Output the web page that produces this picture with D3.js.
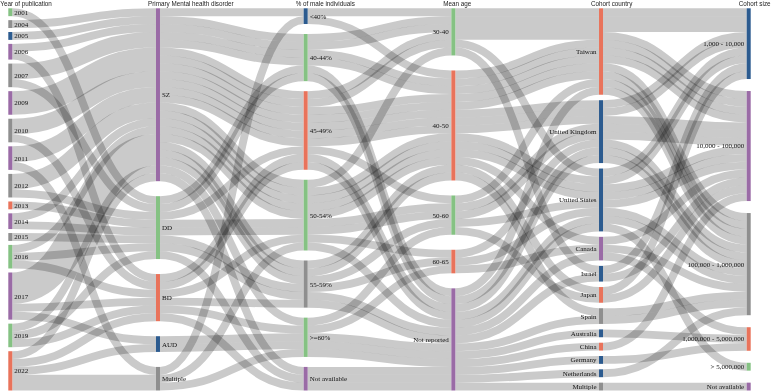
<!DOCTYPE html>
<html>
<head>
<meta charset="utf-8">
<script src="https://cdn.jsdelivr.net/npm/d3@7"></script>
<style>
  body { margin: 0; background: #fff; }
  svg { display: block; }
</style>
</head>
<body>
<div id="chart"></div>
<script>
"use strict";

// categories of each axis, in drawing order
const yearCats = [2001, 2004, 2005, 2006, 2007, 2009, 2010, 2011, 2012, 2013, 2014, 2015, 2016, 2017, 2019, 2022];
const disorderCats = ["SZ", "DD", "BD", "AUD", "Multiple"];
const maleCats = ["<40%", "40-44%", "45-49%", "50-54%", "55-59%", ">=60%", "Not available"];
const ageCats = ["30-40", "40-50", "50-60", "60-65", "Not reported"];
const countryCats = ["Taiwan", "United Kingdom", "United States", "Canada", "Israel", "Japan", "Spain",
    "Australia", "China", "Germany", "Netherlands", "Multiple"];
const sizeCats = ["1,000 - 10,000", "10,000 - 100,000", "100,000 - 1,000,000", "1,000,000 - 5,000,000",
    "> 5,000,000", "Not available"];

// one entry per included study (41 studies)
const studyYear = [2001, 2004, 2005, 2006, 2006, 2007, 2007, 2007, 2009, 2009, 2009, 2010, 2010, 2010,
    2011, 2011, 2011, 2012, 2012, 2012, 2013, 2014, 2014, 2015, 2016, 2016, 2016, 2017, 2017, 2017, 2017,
    2017, 2017, 2019, 2019, 2019, 2022, 2022, 2022, 2022, 2022];
const studyDisorder = ["DD", "SZ", "SZ", "SZ", "BD", "SZ", "SZ", "DD", "SZ", "SZ", "SZ", "SZ", "SZ", "BD",
    "SZ", "SZ", "Multiple", "SZ", "SZ", "DD", "DD", "SZ", "DD", "DD", "SZ", "DD", "BD", "SZ", "SZ", "SZ",
    "SZ", "BD", "AUD", "SZ", "DD", "BD", "SZ", "BD", "AUD", "Multiple", "Multiple"];
const studyMale = ["50-54%", "<40%", "40-44%", "45-49%", "45-49%", "40-44%", "45-49%", "40-44%", "50-54%",
    "45-49%", "55-59%", "40-44%", "45-49%", "50-54%", "50-54%", "45-49%", "50-54%", "55-59%", "50-54%",
    "55-59%", "45-49%", "45-49%", "40-44%", "Not available", "40-44%", "50-54%", "55-59%", "50-54%",
    "45-49%", "Not available", "55-59%", "45-49%", ">=60%", "50-54%", "55-59%", "Not available", ">=60%",
    ">=60%", ">=60%", "<40%", ">=60%"];
const studyAge = ["40-50", "30-40", "30-40", "30-40", "40-50", "40-50", "40-50", "40-50", "30-40", "40-50",
    "40-50", "30-40", "30-40", "40-50", "40-50", "40-50", "50-60", "50-60", "50-60", "60-65", "40-50",
    "50-60", "Not reported", "Not reported", "Not reported", "60-65", "40-50", "40-50", "Not reported",
    "Not reported", "Not reported", "Not reported", "Not reported", "Not reported", "Not reported",
    "Not reported", "Not reported", "60-65", "Not reported", "40-50", "50-60"];
const studyCountry = ["United States", "Taiwan", "Taiwan", "Taiwan", "United States", "United Kingdom",
    "Taiwan", "United States", "Taiwan", "Taiwan", "United Kingdom", "Israel", "United States", "Japan",
    "Taiwan", "United Kingdom", "United Kingdom", "Japan", "United Kingdom", "Canada", "Canada", "Taiwan",
    "United Kingdom", "United States", "Taiwan", "United Kingdom", "Spain", "Taiwan", "United States",
    "China", "United Kingdom", "Canada", "Germany", "Israel", "Australia", "Multiple", "Spain",
    "United States", "Netherlands", "Taiwan", "United States"];
const studySize = ["10,000 - 100,000", "1,000 - 10,000", "1,000 - 10,000", "10,000 - 100,000",
    "100,000 - 1,000,000", "1,000 - 10,000", "10,000 - 100,000", "10,000 - 100,000", "1,000 - 10,000",
    "100,000 - 1,000,000", "100,000 - 1,000,000", "1,000 - 10,000", "1,000 - 10,000", "1,000 - 10,000",
    "10,000 - 100,000", "10,000 - 100,000", "100,000 - 1,000,000", "10,000 - 100,000", "10,000 - 100,000",
    "1,000,000 - 5,000,000", "10,000 - 100,000", "10,000 - 100,000", "10,000 - 100,000", "10,000 - 100,000",
    "100,000 - 1,000,000", "1,000 - 10,000", "100,000 - 1,000,000", "100,000 - 1,000,000", "1,000 - 10,000",
    "10,000 - 100,000", "100,000 - 1,000,000", "100,000 - 1,000,000", "1,000,000 - 5,000,000",
    "10,000 - 100,000", "1,000,000 - 5,000,000", "Not available", "100,000 - 1,000,000",
    "100,000 - 1,000,000", "100,000 - 1,000,000", "100,000 - 1,000,000", "> 5,000,000"];

// node colours
const palette = { purple: "#9a6ba6", green: "#85c283", orange: "#e9735b", blue: "#2c5b8f", grey: "#8f8f8f" };
const yearColors = ["green", "grey", "blue", "purple", "grey", "purple", "grey", "purple", "grey", "orange",
    "purple", "grey", "green", "purple", "green", "orange"];
const disorderColors = ["purple", "green", "orange", "blue", "grey"];
const maleColors = ["blue", "green", "orange", "green", "grey", "green", "purple"];
const ageColors = ["green", "orange", "green", "orange", "purple"];
const countryColors = ["orange", "blue", "blue", "purple", "blue", "orange", "grey", "blue", "orange", "blue",
    "blue", "grey"];
const sizeColors = ["blue", "purple", "grey", "orange", "green", "purple"];

const columns = [
    { title: "Year of publication", cats: yearCats, values: studyYear, colors: yearColors },
    { title: "Primary Mental health disorder", cats: disorderCats, values: studyDisorder, colors: disorderColors },
    { title: "% of male individuals", cats: maleCats, values: studyMale, colors: maleColors },
    { title: "Mean age", cats: ageCats, values: studyAge, colors: ageColors },
    { title: "Cohort country", cats: countryCats, values: studyCountry, colors: countryColors },
    { title: "Cohort size", cats: sizeCats, values: studySize, colors: sizeColors }
];

const width = 771;
const height = 391;
const nodeWidth = 4;
const minPadding = 4;
const yTop = 8.3;
const yBottom = 390.5;
const n = studyYear.length;

let x = d3.scalePoint()
    .domain(d3.range(columns.length))
    .range([8.3, 746.7]);

// the axis with the most categories sets the unit height
let ky = d3.min(columns, c => (yBottom - yTop - (c.cats.length - 1) * minPadding) / n);
let unit = d3.scaleLinear().domain([0, n]).range([0, n * ky]);

// nodes: stacked, remaining space spread between categories
columns.forEach((col, ci) => {
    let counts = d3.rollup(col.values, v => v.length, d => d);
    let gap = (yBottom - yTop - unit(n)) / (col.cats.length - 1);
    let y = yTop;
    col.nodes = col.cats.map((name, i) => {
        let value = counts.get(name) || 0;
        let node = {
            name: name, value: value, col: ci,
            x0: x(ci), x1: x(ci) + nodeWidth,
            y0: y, y1: y + unit(value),
            color: palette[col.colors[i]],
            sourceLinks: [], targetLinks: []
        };
        y = node.y1 + gap;
        return node;
    });
    col.byName = new Map(col.nodes.map(d => [d.name, d]));
});

// links split by the full path travelled so far (parallel sets)
let links = [];
for (let ci = 0; ci < columns.length - 1; ci++) {
    let byKey = new Map();
    for (let r = 0; r < n; r++) {
        let key = columns.slice(0, ci + 2).map(c => c.values[r]).join("|");
        let link = byKey.get(key);
        if (!link) {
            link = {
                source: columns[ci].byName.get(columns[ci].values[r]),
                target: columns[ci + 1].byName.get(columns[ci + 1].values[r]),
                value: 0,
                index: links.length
            };
            byKey.set(key, link);
            links.push(link);
            link.source.sourceLinks.push(link);
            link.target.targetLinks.push(link);
        }
        link.value++;
    }
}

let allNodes = columns.flatMap(c => c.nodes);
for (const node of allNodes) {
    node.sourceLinks.sort((a, b) => a.target.y0 - b.target.y0 || a.index - b.index);
    node.targetLinks.sort((a, b) => a.source.y0 - b.source.y0 || a.index - b.index);
    let y0 = node.y0;
    let y1 = node.y0;
    for (const link of node.sourceLinks) {
        link.width = unit(link.value);
        link.y0 = y0 + link.width / 2;
        y0 += link.width;
    }
    for (const link of node.targetLinks) {
        let w = unit(link.value);
        link.y1 = y1 + w / 2;
        y1 += w;
    }
}

let svg = d3.select("#chart").append("svg")
    .attr("width", width)
    .attr("height", height);

svg.append("rect")
    .attr("width", width)
    .attr("height", height)
    .attr("fill", "#fff");

// draw links
svg.append("g")
    .attr("fill", "none")
    .selectAll("path")
    .data(links)
    .join("path")
    .attr("d", d3.linkHorizontal()
        .source(d => [d.source.x1, d.y0])
        .target(d => [d.target.x0, d.y1]))
    .attr("stroke", "#cacaca")
    .attr("stroke-width", d => d.width)
    .style("mix-blend-mode", "multiply");

// draw nodes
svg.append("g")
    .selectAll("rect")
    .data(allNodes.filter(d => d.value > 0))
    .join("rect")
    .attr("x", d => d.x0)
    .attr("y", d => d.y0)
    .attr("width", d => d.x1 - d.x0)
    .attr("height", d => d.y1 - d.y0)
    .attr("fill", d => d.color);

// node labels, right of the bar on the left half, left of it otherwise
svg.append("g")
    .style("font-family", "'Liberation Serif', 'Times New Roman', serif")
    .style("font-size", "7px")
    .attr("fill", "#111")
    .selectAll("text")
    .data(allNodes.filter(d => d.value > 0))
    .join("text")
    .attr("x", d => d.x0 < width / 2 ? d.x1 + 2 : d.x0 - 2.5)
    .attr("y", d => (d.y0 + d.y1) / 2)
    .attr("dy", "0.35em")
    .attr("text-anchor", d => d.x0 < width / 2 ? "start" : "end")
    .text(d => d.name);

// axis titles
svg.append("g")
    .style("font-family", "'Liberation Sans', Arial, sans-serif")
    .style("font-size", "6.3px")
    .attr("fill", "#222")
    .selectAll("text")
    .data(columns)
    .join("text")
    .attr("x", (_d, i) => x(i) - 8)
    .attr("y", 6.3)
    .text(d => d.title);
</script>
</body>
</html>
